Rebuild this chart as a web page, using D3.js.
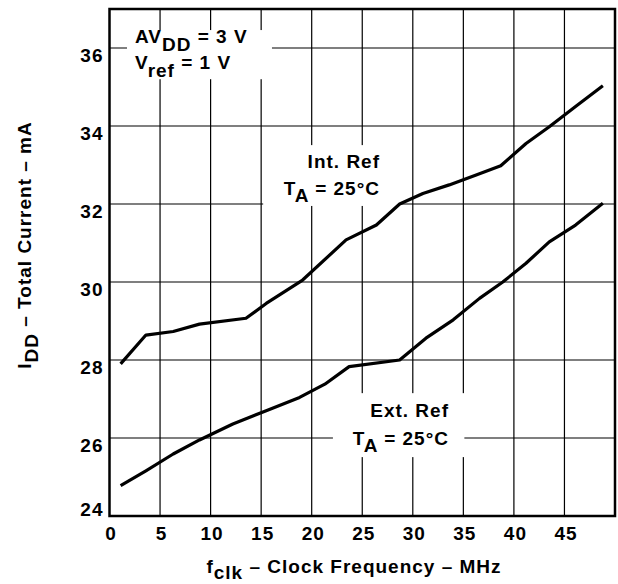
<!DOCTYPE html>
<html>
<head>
<meta charset="utf-8">
<script src="https://cdn.jsdelivr.net/npm/d3@7"></script>
<style>
  body { margin: 0; background: #fff; }
  svg text { font-family: "Liberation Sans", Arial, sans-serif; font-weight: bold; fill: #000; letter-spacing: 1px; }
</style>
</head>
<body>
<svg id="chart"></svg>
<script>
// Supply current vs clock frequency
const xTicks = [0, 5, 10, 15, 20, 25, 30, 35, 40, 45];
const yTicks = [24, 26, 28, 30, 32, 34, 36];

const intRefFreq = [1.1, 3.6, 6.3, 8.9, 13.5, 15.5, 19.1, 23.4, 26.4, 28.7, 31, 33.6, 36.2, 38.7, 41.2, 43.5, 46.1, 48.8];
const intRefCurrent = [27.9, 28.64, 28.73, 28.92, 29.07, 29.45, 30.05, 31.08, 31.46, 32.0, 32.27, 32.49, 32.74, 32.98, 33.55, 33.98, 34.5, 35.03];

const extRefFreq = [1.1, 3.6, 6.3, 8.9, 12.2, 15.5, 18.8, 21.3, 23.7, 28.7, 31.3, 34, 36.6, 38.9, 41.2, 43.5, 46.1, 48.8];
const extRefCurrent = [24.78, 25.16, 25.59, 25.95, 26.36, 26.7, 27.04, 27.38, 27.83, 28.0, 28.56, 29.03, 29.58, 30.0, 30.48, 31.03, 31.46, 32.02];

const width = 618, height = 584;
const margin = { left: 109.5, right: 3, top: 9, bottom: 68 };

const svg = d3.select('#chart')
    .attr('width', width)
    .attr('height', height);

const x = d3.scaleLinear().domain([0, 50]).range([margin.left, width - margin.right]);
const y = d3.scaleLinear().domain([24, 37]).range([height - margin.bottom, margin.top]);

// Grid
const grid = svg.append('g').attr('stroke', '#000').attr('stroke-width', 1.2);
grid.selectAll('line.v')
    .data(xTicks.filter(d => d > 0))
    .join('line')
    .attr('class', 'v')
    .attr('x1', d => x(d)).attr('x2', d => x(d))
    .attr('y1', y(37)).attr('y2', y(24));
grid.selectAll('line.h')
    .data(yTicks.filter(d => d > 24))
    .join('line')
    .attr('class', 'h')
    .attr('x1', x(0)).attr('x2', x(50))
    .attr('y1', d => y(d)).attr('y2', d => y(d));

// White boxes behind annotations (gridlines are broken there)
const boxes = [
    { x0: 1.73, x1: 16.07, y0: 35.2, y1: 36.46 },
    { x0: 15.2, x1: 28.6, y0: 31.95, y1: 33.51 },
    { x0: 22.1, x1: 35.1, y0: 25.51, y1: 27.15 },
];
svg.append('g').selectAll('rect')
    .data(boxes)
    .join('rect')
    .attr('x', d => x(d.x0))
    .attr('y', d => y(d.y1))
    .attr('width', d => x(d.x1) - x(d.x0))
    .attr('height', d => y(d.y0) - y(d.y1))
    .attr('fill', '#fff');

// Frame
svg.append('rect')
    .attr('x', x(0)).attr('y', y(37))
    .attr('width', x(50) - x(0)).attr('height', y(24) - y(37))
    .attr('fill', 'none').attr('stroke', '#000').attr('stroke-width', 2.5);

// Tick labels
svg.append('g').selectAll('text')
    .data(xTicks)
    .join('text')
    .attr('x', d => x(d) + 1.5)
    .attr('y', 540)
    .attr('text-anchor', 'middle')
    .attr('font-size', 19)
    .text(d => d);

svg.append('g').selectAll('text')
    .data(yTicks)
    .join('text')
    .attr('x', 103.5)
    .attr('y', d => Math.min(y(d) + 13.5, y(24)))
    .attr('text-anchor', 'end')
    .attr('font-size', 19)
    .text(d => d);

// Curves
const line = d3.line().x(d => x(d[0])).y(d => y(d[1]));
const series = [
    d3.zip(intRefFreq, intRefCurrent),
    d3.zip(extRefFreq, extRefCurrent),
];
svg.append('g').selectAll('path')
    .data(series)
    .join('path')
    .attr('d', line)
    .attr('fill', 'none')
    .attr('stroke', '#000')
    .attr('stroke-width', 3.2)
    .attr('stroke-linejoin', 'round');

// Text with full-size subscripts
function subText(g, px, py, parts, anchor, shift) {
    shift = shift || 8;
    const t = g.append('text')
        .attr('x', px).attr('y', py)
        .attr('font-size', 19)
        .attr('text-anchor', anchor || 'start');
    parts.forEach(p => {
        if (p.sub) {
            t.append('tspan').attr('dy', shift).text(p.sub);
        } else {
            t.append('tspan').attr('dy', p.after ? -shift : 0).text(p.t);
        }
    });
    return t;
}

const ann = svg.append('g');
subText(ann, 135, 42.5, [{ t: 'AV' }, { sub: 'DD' }, { t: ' = 3 V', after: true }]);
subText(ann, 135, 69, [{ t: 'V' }, { sub: 'ref' }, { t: ' = 1 V', after: true }]);
subText(ann, 380, 168, [{ t: 'Int. Ref' }], 'end');
subText(ann, 380, 195, [{ t: 'T' }, { sub: 'A' }, { t: ' = 25\u00b0C', after: true }], 'end', 7);
subText(ann, 449, 417, [{ t: 'Ext. Ref' }], 'end');
subText(ann, 449, 445, [{ t: 'T' }, { sub: 'A' }, { t: ' = 25\u00b0C', after: true }], 'end', 7);

// Axis titles
subText(svg, 354, 573, [{ t: 'f' }, { sub: 'clk' }, { t: ' \u2013 Clock Frequency \u2013 MHz', after: true }], 'middle', 6);
subText(svg.append('g').attr('transform', 'translate(31,245) rotate(-90)'), 0, 0,
    [{ t: 'I' }, { sub: 'DD' }, { t: ' \u2013 Total Current \u2013 mA', after: true }], 'middle', 7);
</script>
</body>
</html>
